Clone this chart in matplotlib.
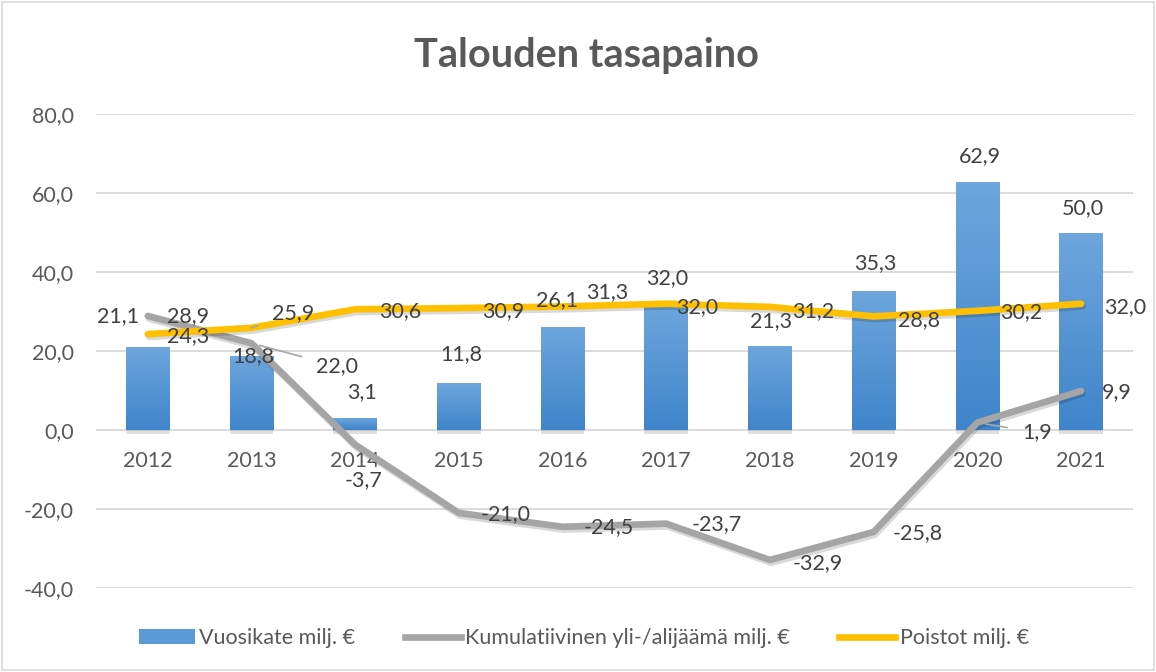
import matplotlib
matplotlib.use("Agg")
import matplotlib.pyplot as plt
import matplotlib.patheffects as pe
from matplotlib.patches import Rectangle, Patch
from matplotlib.lines import Line2D
import numpy as np

plt.rcParams['font.family'] = ['Lato', 'DejaVu Sans']

years = ['2012', '2013', '2014', '2015', '2016', '2017', '2018', '2019', '2020', '2021']
vuosikate = [21.1, 18.8, 3.1, 11.8, 26.1, 32.0, 21.3, 35.3, 62.9, 50.0]
kumulatiivinen = [28.9, 22.0, -3.7, -21.0, -24.5, -23.7, -32.9, -25.8, 1.9, 9.9]
poistot = [24.3, 25.9, 30.6, 30.9, 31.3, 32.0, 31.2, 28.8, 30.2, 32.0]

title = 'Talouden tasapaino'
names = ['Vuosikate milj. €', 'Kumulatiivinen yli-/alijäämä milj. €', 'Poistot milj. €']

txt = '#595959'
grid_c = '#d9d9d9'
gray = '#a5a5a5'
yellow = '#ffc000'
fs = 15.5


def fmt(v):
    return f'{v:.1f}'.replace('.', ',')


fig = plt.figure(figsize=(11.56, 6.72), dpi=100)
ax = fig.add_axes([0.083, 0.125, 0.897, 0.705])
x = np.arange(len(years))

# bars with vertical gradient
bars = ax.bar(x, vuosikate, width=0.42, color='#5b9bd5', zorder=2,
              path_effects=[pe.SimplePatchShadow(offset=(0, -3), shadow_rgbFace='#000000', alpha=0.12), pe.Normal()])
grad = np.linspace(0, 1, 100).reshape(-1, 1)
cmap = matplotlib.colors.LinearSegmentedColormap.from_list('g', ['#3f85cb', '#6ea6dd'])
for b in bars:
    bx, by = b.get_x(), b.get_y()
    bw, bh = b.get_width(), b.get_height()
    im = ax.imshow(grad, cmap=cmap, aspect='auto', origin='lower',
                   extent=[bx, bx + bw, by, by + bh], zorder=2.1)
    im.set_clip_path(b)

shadow = [pe.SimpleLineShadow(offset=(1, -2), shadow_color='#000000', alpha=0.15), pe.Normal()]
ax.plot(x, kumulatiivinen, color=gray, lw=4.8, zorder=3, solid_capstyle='round', path_effects=shadow)
ax.plot(x, poistot, color=yellow, lw=4.8, zorder=4, solid_capstyle='round', path_effects=shadow)

ax.set_xlim(-0.5, len(years) - 0.5)
ax.set_ylim(-40, 80)
ax.set_yticks(np.arange(-40, 81, 20))
ax.set_yticklabels([fmt(v) for v in np.arange(-40, 81, 20)])
ax.set_xticks(x)
ax.set_xticklabels(years)
ax.grid(axis='y', color=grid_c, lw=1.3, zorder=0)
ax.set_axisbelow(True)
for s in ax.spines.values():
    s.set_visible(False)
ax.spines['bottom'].set_position(('data', 0))
ax.tick_params(axis='both', length=0, labelsize=fs, colors=txt)
ax.tick_params(axis='x', pad=15)
ax.tick_params(axis='y', pad=16)

lab_kw = dict(textcoords='offset pixels', ha='center', va='center',
              fontsize=fs, color='#404040', zorder=6)
lead = dict(arrowstyle='-', color='#a6a6a6', lw=1.2, shrinkA=9, shrinkB=6)

# label offsets in pixels relative to the data point
v_off = [(-30, 31), (2, 0), (7, 26), (2, 29), (-6, 27), (1, 26), (1, 25), (2, 28), (3, 26), (2, 25)]
k_off = [(40, 0), (86, -23), (8, -35), (47, -1), (46, 0), (50, 0), (48, -3), (44, -1), (60, -10), (36, -1)]
p_off = [(40, -2), (42, 15), (45, -2), (44, -3), (45, 14), (31, -3), (43, -4), (45, -4), (44, -1), (44, -3)]
k_lead = [False, True, False, False, False, False, False, False, True, False]
p_lead = [False, True, False, False, True, False, False, False, False, False]

for i in x:
    ax.annotate(fmt(vuosikate[i]), (i, vuosikate[i]), xytext=v_off[i], **lab_kw)
    ax.annotate(fmt(kumulatiivinen[i]), (i, kumulatiivinen[i]), xytext=k_off[i],
                arrowprops=lead if k_lead[i] else None, **lab_kw)
    ax.annotate(fmt(poistot[i]), (i, poistot[i]), xytext=p_off[i],
                arrowprops=lead if p_lead[i] else None, **lab_kw)

fig.text(0.507, 0.918, title, ha='center', va='center', fontsize=28.5,
         fontweight='bold', color=txt)

handles = [Patch(facecolor='#5b9bd5'),
           Line2D([], [], color=gray, lw=4.8),
           Line2D([], [], color=yellow, lw=4.8)]
fig.legend(handles, names, loc='center', bbox_to_anchor=(0.505, 0.05), ncol=3,
           frameon=False, fontsize=fs, labelcolor=txt, handlelength=2.6,
           handletextpad=0.2, columnspacing=2.3)

fig.add_artist(Rectangle((0.002, 0.003), 0.996, 0.994, transform=fig.transFigure,
                         fill=False, edgecolor=grid_c, lw=1.2))

fig.savefig('out.png', dpi=100)
